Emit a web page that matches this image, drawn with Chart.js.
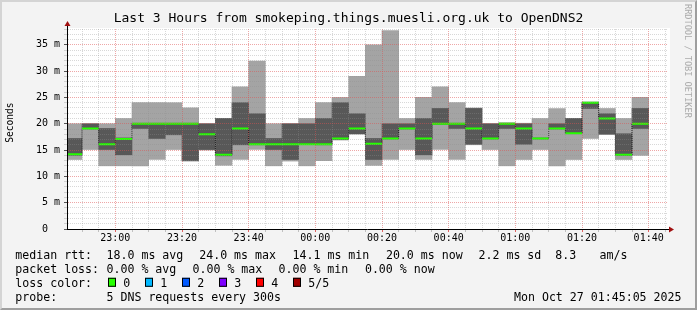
<!DOCTYPE html>
<html>
<head>
<meta charset="utf-8">
<title>smokeping OpenDNS2</title>
<script src="https://cdn.jsdelivr.net/npm/chart.js@4.4.0/dist/chart.umd.min.js"></script>
<style>
  html, body { margin: 0; padding: 0; background: #f3f3f3; }
  #wrap { position: relative; width: 697px; height: 310px; }
  #frame { position: absolute; left: 0; top: 0; width: 697px; height: 310px; box-sizing: border-box;
           border: 2px solid; border-color: #d4d4d4 #9e9e9e #9e9e9e #d4d4d4; pointer-events: none; }
</style>
</head>
<body>
<div id="wrap">
  <canvas id="smokeChart" width="697" height="310"></canvas>
  <div id="frame"></div>
</div>
<script>
// 5-minute slots, start time of each
const slotStarts = ['22:45', '22:50', '22:55', '23:00', '23:05', '23:10', '23:15', '23:20', '23:25', '23:30',
                    '23:35', '23:40', '23:45', '23:50', '23:55', '00:00', '00:05', '00:10', '00:15', '00:20',
                    '00:25', '00:30', '00:35', '00:40', '00:45', '00:50', '00:55', '01:00', '01:05', '01:10',
                    '01:15', '01:20', '01:25', '01:30', '01:35'];
// the 5 sorted pings per slot, in ms
const pingMin    = [13.2, 15.1, 12.0, 12.0, 12.0, 13.2, 15.1, 12.9, 15.0, 12.1, 13.2, 15.1, 12.0, 12.9, 12.0, 13.0, 16.9, 18.0,
                    12.1, 13.2, 15.1, 13.2, 15.1, 13.2, 16.0, 15.1, 12.0, 13.2, 15.1, 12.0, 13.2, 17.2, 18.0, 13.2, 14.0];
const pingLow    = [14.0, 19.0, 15.1, 14.1, 19.1, 17.2, 17.9, 13.0, 15.1, 13.9, 16.0, 16.0, 15.1, 13.2, 16.1, 16.0, 17.0, 18.1,
                    13.2, 17.1, 19.0, 14.1, 19.9, 19.1, 16.1, 17.1, 19.1, 16.1, 17.1, 19.0, 18.1, 22.9, 18.0, 14.0, 19.1];
const pingMedian = [14.2, 19.1, 16.1, 17.1, 20.0, 20.0, 20.0, 20.0, 18.0, 14.1, 19.1, 16.1, 16.1, 16.1, 16.1, 16.1, 17.2, 19.1,
                    16.2, 17.2, 19.1, 17.2, 20.0, 20.0, 19.1, 17.2, 20.0, 19.1, 17.2, 19.1, 18.2, 24.0, 21.0, 14.1, 20.0];
const pingHigh   = [17.2, 20.0, 19.1, 17.3, 20.1, 20.1, 20.1, 20.1, 20.0, 21.0, 24.0, 21.9, 17.2, 20.0, 20.0, 21.0, 24.0, 21.9,
                    17.2, 20.0, 20.0, 21.0, 22.9, 20.1, 22.9, 20.0, 20.1, 20.0, 17.3, 20.0, 21.0, 24.1, 21.9, 18.1, 22.9];
const pingMax    = [20.0, 20.0, 20.0, 21.0, 24.0, 24.0, 24.0, 23.0, 20.0, 21.0, 27.0, 31.9, 20.0, 20.0, 21.0, 24.0, 25.0, 29.0,
                    35.0, 37.7, 21.0, 25.0, 27.0, 24.0, 23.0, 20.0, 20.2, 20.1, 21.0, 22.9, 21.0, 24.1, 22.9, 21.0, 25.0];

const xTickLabels = ['23:00', '23:20', '23:40', '00:00', '00:20', '00:40', '01:00', '01:20', '01:40'];
const yTickLabels = ['0  ', '5 m', '10 m', '15 m', '20 m', '25 m', '30 m', '35 m'];

const rttStats  = ['18.0 ms avg', '24.0 ms max', '14.1 ms min', '20.0 ms now', '2.2 ms sd', '8.3', 'am/s'];
const lossStats = ['0.00 % avg', '0.00 % max', '0.00 % min', '0.00 % now'];
const lossColors = [['0', '#26ff00'], ['1', '#00b8ff'], ['2', '#0059ff'], ['3', '#7e00ff'], ['4', '#ff0000'], ['5/5', '#a10000']];
const probeText = '5 DNS requests every 300s';
const stampText = 'Mon Oct 27 01:45:05 2025';

const slotMinutes = 5;
const mono = 'DejaVu Sans Mono';
const minorGrid = 'rgba(143,143,143,0.35)';
const majorGrid = 'rgba(222,80,80,0.5)';

// minutes relative to 23:00
function toMinutes(hhmm) {
    const [h, m] = hhmm.split(':').map(Number);
    let t = h * 60 + m - 23 * 60;
    if (t < -120) t += 1440;
    return t;
}
const xTickValues = xTickLabels.map(toMinutes);
const centers = slotStarts.map(s => toMinutes(s) + slotMinutes / 2);

const medianSegments = [];
slotStarts.forEach((s, i) => {
    const t = toMinutes(s);
    medianSegments.push({x: t, y: pingMedian[i]}, {x: t + slotMinutes, y: pingMedian[i]}, {x: t + slotMinutes, y: null});
});

const rrdDecor = {
    id: 'rrdDecor',
    beforeDraw(chart) {
        const {ctx, chartArea: a} = chart;
        ctx.save();
        ctx.fillStyle = '#ffffff';
        ctx.fillRect(a.left, a.top - 1, a.right - a.left + 3, a.bottom - a.top + 1);
        ctx.restore();
    },
    afterDraw(chart) {
        const {ctx, chartArea: a} = chart;
        ctx.save();
        // axis arrows
        ctx.strokeStyle = '#000';
        ctx.lineWidth = 1;
        ctx.beginPath();
        ctx.moveTo(a.left + 0.5, a.top);
        ctx.lineTo(a.left + 0.5, a.top - 4);
        ctx.moveTo(a.right, a.bottom + 0.5);
        ctx.lineTo(a.right + 3, a.bottom + 0.5);
        ctx.stroke();
        ctx.fillStyle = '#a01010';
        ctx.beginPath();
        ctx.moveTo(a.left + 0.5, a.top - 8);
        ctx.lineTo(a.left - 2.5, a.top - 3);
        ctx.lineTo(a.left + 3.5, a.top - 3);
        ctx.closePath();
        ctx.fill();
        ctx.beginPath();
        ctx.moveTo(a.right + 7, a.bottom + 0.5);
        ctx.lineTo(a.right + 2, a.bottom - 2.5);
        ctx.lineTo(a.right + 2, a.bottom + 3.5);
        ctx.closePath();
        ctx.fill();

        // axis title
        ctx.fillStyle = '#000';
        ctx.font = '9.6px "' + mono + '"';
        ctx.textAlign = 'center';
        ctx.textBaseline = 'middle';
        ctx.save();
        ctx.translate(10.5, 122.6);
        ctx.rotate(-Math.PI / 2);
        ctx.fillText('Seconds', 0, 0);
        ctx.restore();

        // watermark
        ctx.save();
        ctx.fillStyle = '#ababab';
        ctx.font = '8.6px "' + mono + '"';
        ctx.textAlign = 'left';
        ctx.translate(687.5, 4);
        ctx.rotate(Math.PI / 2);
        ctx.fillText('RRDTOOL / TOBI OETIKER', 0, 0);
        ctx.restore();

        // legend block
        ctx.font = '11.6px "' + mono + '"';
        ctx.textAlign = 'left';
        ctx.textBaseline = 'alphabetic';
        ctx.fillStyle = '#000';
        const rowY = [258.7, 272.7, 286.7, 300.7];
        ctx.fillText('median rtt:', 15.3, rowY[0]);
        [106.5, 199.2, 292.5, 385.9, 478.5, 555.2, 599.5].forEach((x, i) => ctx.fillText(rttStats[i], x, rowY[0]));
        ctx.fillText('packet loss:', 15.3, rowY[1]);
        [106.5, 192.5, 278.5, 364.9].forEach((x, i) => ctx.fillText(lossStats[i], x, rowY[1]));
        ctx.fillText('loss color:', 15.3, rowY[2]);
        lossColors.forEach(([label, color], i) => {
            const bx = 108 + 37 * i;
            ctx.fillStyle = color;
            ctx.fillRect(bx, 277.8, 8, 9);
            ctx.strokeStyle = '#000';
            ctx.strokeRect(bx + 0.5, 278.3, 7, 8);
            ctx.fillStyle = '#000';
            ctx.fillText(label, bx + 15.2, rowY[2]);
        });
        ctx.fillText('probe:', 15.3, rowY[3]);
        ctx.fillText(probeText, 106.5, rowY[3]);
        ctx.textAlign = 'right';
        ctx.fillText(stampText, 681.5, rowY[3]);
        ctx.restore();
    }
};

const ctxEl = document.getElementById('smokeChart');
const smokeChart = new Chart(ctxEl, {
    type: 'bar',
    data: {
        datasets: [{
            type: 'line',
            data: medianSegments,
            borderColor: '#26ff00',
            borderWidth: 2,
            pointRadius: 0,
            spanGaps: false,
            order: 1,
            clip: 0
        }, {
            type: 'line',
            data: centers.map((x, i) => ({x: x, y: pingMedian[i]})),
            stepped: 'middle',
            borderColor: '#202020',
            borderWidth: 1,
            borderDash: [1, 1],
            pointRadius: 0,
            order: 2,
            clip: 0
        }, {
            data: centers.map((x, i) => ({x: x, y: [pingLow[i], pingHigh[i]]})),
            backgroundColor: '#585858',
            order: 3,
            clip: 0
        }, {
            data: centers.map((x, i) => ({x: x, y: [pingMin[i], pingMax[i]]})),
            backgroundColor: '#a4a4a4',
            order: 4,
            clip: 0
        }]
    },
    options: {
        responsive: false,
        animation: false,
        events: [],
        layout: {padding: {left: 30, right: 30, top: 0, bottom: 0}},
        datasets: {
            bar: {grouped: false, barPercentage: 1, categoryPercentage: 1, borderWidth: 0}
        },
        plugins: {
            legend: {display: false},
            tooltip: {enabled: false},
            title: {
                display: true,
                text: 'Last 3 Hours from smokeping.things.muesli.org.uk to OpenDNS2',
                color: '#000',
                font: {family: mono, size: 13, weight: 'normal'},
                padding: {top: 11.2, bottom: 2.2}
            }
        },
        scales: {
            x: {
                type: 'linear',
                min: -14.5,
                max: 165.5,
                offset: false,
                afterBuildTicks: (scale) => {
                    const t = [];
                    for (let v = Math.ceil(scale.min / slotMinutes) * slotMinutes; v <= scale.max; v += slotMinutes) t.push({value: v});
                    scale.ticks = t;
                },
                afterFit: (scale) => { scale.height = 81; },
                grid: {
                    z: 1,
                    offset: false,
                    color: (c) => c.tick && xTickValues.includes(c.tick.value) ? majorGrid : minorGrid,
                    tickLength: 3,
                    tickColor: (c) => c.tick && xTickValues.includes(c.tick.value) ? '#e06060' : '#c0c0c0'
                },
                border: {color: '#000', width: 1, dash: [1, 1], z: 2},
                ticks: {
                    autoSkip: false,
                    maxRotation: 0,
                    minRotation: 0,
                    padding: 0,
                    color: '#000',
                    font: {family: mono, size: 10},
                    callback: (v) => {
                        const i = xTickValues.indexOf(v);
                        return i < 0 ? '' : xTickLabels[i];
                    }
                }
            },
            y: {
                min: 0,
                max: 38,
                afterBuildTicks: (scale) => {
                    const t = [];
                    for (let v = 0; v <= scale.max; v++) t.push({value: v});
                    scale.ticks = t;
                },
                afterFit: (scale) => { scale.width = 37; },
                grid: {
                    z: 1,
                    color: (c) => !c.tick || c.tick.value === 0 ? 'rgba(0,0,0,0)' : (c.tick.value % 5 === 0 ? majorGrid : minorGrid),
                    tickLength: 3,
                    tickColor: (c) => c.tick && c.tick.value % 5 === 0 ? '#555' : '#d0d0d0'
                },
                border: {color: '#000', width: 1, dash: [1, 1], z: 2},
                ticks: {
                    autoSkip: false,
                    padding: 4,
                    color: '#000',
                    font: {family: mono, size: 10},
                    callback: (v) => v % 5 === 0 ? yTickLabels[v / 5] : ''
                }
            }
        }
    },
    plugins: [rrdDecor]
});
</script>
</body>
</html>
